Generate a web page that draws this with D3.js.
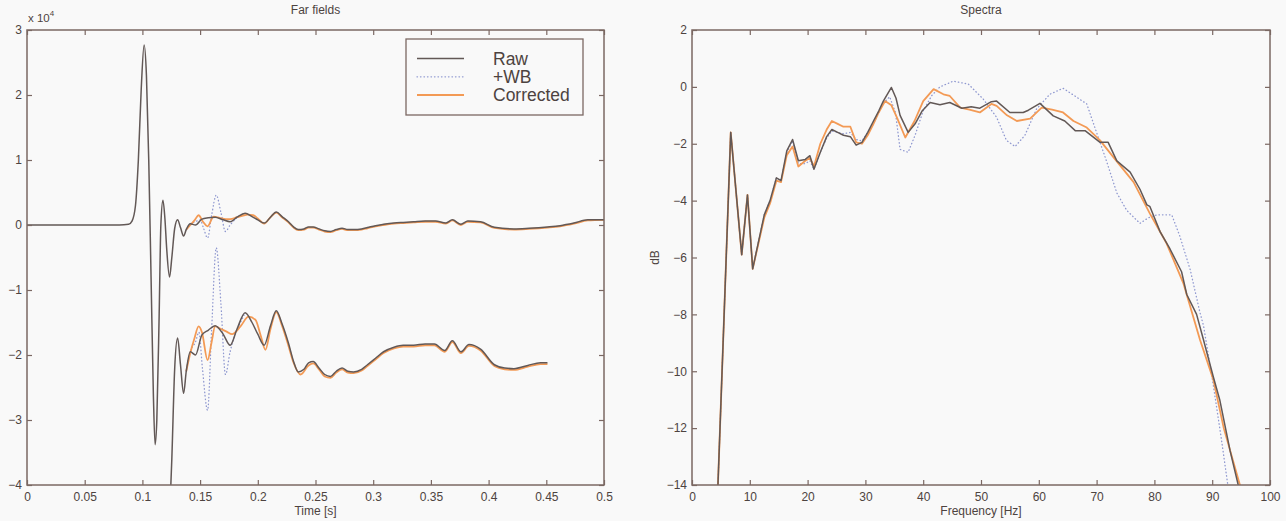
<!DOCTYPE html>
<html><head><meta charset="utf-8">
<script src="https://cdn.jsdelivr.net/npm/d3@7"></script>
<style>
html,body{margin:0;padding:0;background:#f9f9f9;}
svg{display:block;font-family:"Liberation Sans",Arial,Helvetica,sans-serif;}
</style></head><body>
<svg id="chart" width="1286" height="521"></svg>
<script>
// ---------------- DATA ----------------
// Far fields (values in units of 1e4)
const farTimeTicks = [0, 0.05, 0.1, 0.15, 0.2, 0.25, 0.3, 0.35, 0.4, 0.45, 0.5];
const farTimeTickLabels = ["0","0.05","0.1","0.15","0.2","0.25","0.3","0.35","0.4","0.45","0.5"];
const farValueTicks = [-4, -3, -2, -1, 0, 1, 2, 3];

// upper trace
const farTopTime = [0,0.08,0.088,0.091,0.094,0.0965,0.099,0.1015,0.1035,0.1055,0.1075,0.1095,0.111,0.1125,0.1145,0.116,0.1178,0.1195,0.121,0.1235,0.1255,0.128,0.1305,0.133,0.1357,0.138,0.1415,0.146,0.1516,0.157,0.163,0.17,0.176,0.182,0.189,0.195,0.2,0.2055,0.211,0.216,0.221,0.2266,0.231,0.235,0.24,0.244,0.248,0.253,0.258,0.263,0.268,0.273,0.278,0.283,0.29,0.295,0.302,0.309,0.318,0.326,0.335,0.345,0.354,0.363,0.3686,0.376,0.382,0.393,0.405,0.422,0.435,0.451,0.462,0.474,0.486,0.5];
const farTopRaw  = [0,0,0.01,0.06,0.3,1.0,2.1,2.77,2.3,1.0,-0.8,-2.6,-3.38,-3.0,-1.4,0.0,0.38,0.1,-0.35,-0.8,-0.5,-0.05,0.08,-0.04,-0.17,-0.07,0.02,0.0,0.09,0.11,0.12,0.08,0.05,0.12,0.18,0.13,0.08,0.03,0.12,0.2,0.13,0.05,-0.03,-0.07,-0.06,-0.03,-0.03,-0.06,-0.09,-0.1,-0.07,-0.05,-0.07,-0.07,-0.06,-0.04,-0.01,0.01,0.03,0.04,0.05,0.06,0.06,0.03,0.08,0.01,0.06,0.05,-0.035,-0.06,-0.05,-0.03,-0.01,0.03,0.08,0.08];
const farTopCorrTime = [0.138,0.1415,0.1455,0.1487,0.1525,0.1565,0.1617,0.167,0.172,0.176,0.182,0.188,0.191,0.196,0.2,0.2055,0.211,0.216,0.221,0.2266,0.231,0.235,0.24,0.244,0.248,0.253,0.258,0.263,0.268,0.273,0.278,0.283,0.29,0.295,0.302,0.309,0.318,0.326,0.335,0.345,0.354,0.363,0.3686,0.376,0.382,0.393,0.405,0.422,0.435,0.451,0.462,0.474,0.486,0.5];
const farTopCorr = [-0.07,0.0,0.08,0.15,0.05,-0.02,0.13,0.11,0.09,0.09,0.12,0.15,0.16,0.15,0.1,0.02,0.12,0.19,0.12,0.04,-0.04,-0.08,-0.07,-0.04,-0.04,-0.07,-0.1,-0.11,-0.08,-0.06,-0.08,-0.08,-0.07,-0.05,-0.02,0.0,0.02,0.03,0.04,0.05,0.05,0.02,0.07,0.0,0.05,0.04,-0.045,-0.07,-0.06,-0.04,-0.02,0.02,0.07,0.08];
const farTopWBTime = [0.138,0.1415,0.146,0.15,0.153,0.1565,0.16,0.164,0.168,0.172,0.176,0.18,0.185,0.189];
const farTopWB = [-0.07,0.02,0.05,0.08,-0.05,-0.2,0.15,0.46,0.2,-0.1,0.0,0.08,0.15,0.18];

// lower trace
const farLowTime = [0.1225,0.1255,0.128,0.1305,0.133,0.1357,0.138,0.1415,0.146,0.1516,0.157,0.163,0.17,0.176,0.182,0.189,0.195,0.2,0.2055,0.211,0.216,0.221,0.2266,0.231,0.235,0.24,0.244,0.248,0.253,0.258,0.263,0.268,0.273,0.278,0.283,0.29,0.295,0.302,0.309,0.318,0.326,0.335,0.345,0.353,0.362,0.3686,0.376,0.383,0.393,0.405,0.414,0.422,0.434,0.445,0.451];
const farLowRaw = [-5.0,-3.6,-2.2,-1.74,-2.15,-2.59,-2.25,-1.95,-2.0,-1.69,-1.62,-1.55,-1.68,-1.85,-1.6,-1.35,-1.5,-1.68,-1.85,-1.55,-1.32,-1.52,-1.82,-2.1,-2.26,-2.22,-2.12,-2.1,-2.2,-2.3,-2.33,-2.25,-2.2,-2.25,-2.26,-2.22,-2.15,-2.05,-1.95,-1.88,-1.85,-1.85,-1.83,-1.83,-1.93,-1.78,-1.95,-1.84,-1.91,-2.15,-2.2,-2.21,-2.16,-2.12,-2.12];
const farLowCorrTime = [0.138,0.1415,0.145,0.1487,0.1516,0.1565,0.16,0.163,0.168,0.173,0.1777,0.185,0.192,0.198,0.2025,0.2066,0.211,0.216,0.221,0.2266,0.231,0.237,0.244,0.248,0.253,0.258,0.263,0.268,0.273,0.278,0.283,0.29,0.295,0.302,0.309,0.318,0.326,0.335,0.345,0.353,0.362,0.3686,0.376,0.383,0.393,0.405,0.414,0.422,0.434,0.445,0.451];
const farLowCorr = [-2.25,-1.97,-1.75,-1.56,-1.65,-2.08,-1.8,-1.56,-1.6,-1.64,-1.68,-1.56,-1.41,-1.46,-1.7,-1.92,-1.6,-1.34,-1.55,-1.86,-2.12,-2.3,-2.16,-2.13,-2.22,-2.33,-2.35,-2.27,-2.22,-2.27,-2.28,-2.24,-2.17,-2.07,-1.97,-1.9,-1.87,-1.87,-1.85,-1.85,-1.95,-1.8,-1.97,-1.86,-1.93,-2.17,-2.22,-2.23,-2.18,-2.14,-2.14];
const farLowWBTime = [0.138,0.1415,0.146,0.149,0.152,0.1565,0.16,0.164,0.168,0.172,0.176,0.18,0.185,0.189];
const farLowWB = [-2.25,-1.95,-1.8,-1.65,-2.2,-2.85,-1.6,-0.35,-1.2,-2.3,-1.95,-1.7,-1.5,-1.35];

// Spectra (dB)
const specFreqTicks = [0,10,20,30,40,50,60,70,80,90,100];
const specDbTicks = [-14,-12,-10,-8,-6,-4,-2,0,2];
const specRawFreq = [4.4,6.7,8.6,9.6,10.5,12.5,13.5,14.6,15.4,16.4,17.4,18.4,19.6,20.4,21.1,22.2,23.3,24.2,25.2,26.2,27.4,28.4,29.4,30.4,31.4,32.3,33.1,34.5,35.3,36.0,37.4,38.6,39.8,41.2,42.9,44.6,46.7,48.3,49.8,51.8,52.7,55.0,57.3,58.2,60.2,62.5,64.5,66.3,68.0,70.6,72.0,73.5,75.8,77.5,78.7,79.2,81.0,82.7,84.7,85.6,87.3,88.5,90.2,91.3,93.1,94.5,95.0];
const specRawDb = [-14.5,-1.6,-5.9,-3.8,-6.4,-4.5,-4.0,-3.2,-3.3,-2.25,-1.85,-2.6,-2.55,-2.42,-2.9,-2.3,-1.75,-1.5,-1.6,-1.7,-1.75,-2.05,-1.95,-1.6,-1.2,-0.85,-0.5,-0.02,-0.4,-1.0,-1.6,-1.3,-0.85,-0.55,-0.63,-0.55,-0.75,-0.7,-0.75,-0.52,-0.5,-0.9,-0.9,-0.82,-0.58,-1.02,-1.2,-1.54,-1.54,-1.95,-1.95,-2.6,-3.0,-3.6,-4.15,-4.2,-5.1,-5.7,-6.5,-7.3,-8.0,-8.9,-10.2,-11.0,-12.8,-14.0,-14.5];
const specWBFreq = [4.4,6.7,8.6,9.6,10.5,12.5,13.5,14.6,15.4,16.4,17.4,18.4,19.6,20.4,21.1,22.2,23.3,24.2,26.2,27.4,28.4,29.4,31.4,33.0,34.2,35.2,36.0,37.4,38.6,40.0,41.5,42.9,45.2,47.8,50.4,52.7,54.4,55.9,57.6,59.6,61.9,64.2,66.6,68.3,69.7,71.7,73.5,75.2,77.5,79.0,80.4,83.0,84.4,86.2,87.9,88.5,90.2,91.6,92.7,93.0];
const specWBDb = [-14.5,-1.6,-5.9,-3.8,-6.4,-4.5,-4.0,-3.2,-3.3,-2.3,-1.9,-2.7,-2.7,-2.6,-2.9,-2.3,-1.8,-1.55,-1.65,-1.6,-1.85,-1.9,-1.3,-0.6,-0.35,-0.9,-2.2,-2.3,-1.7,-0.84,-0.3,0.0,0.2,0.1,-0.43,-1.07,-1.88,-2.1,-1.7,-0.78,-0.26,-0.05,-0.37,-0.6,-1.43,-2.6,-3.73,-4.34,-4.8,-4.6,-4.5,-4.5,-5.25,-6.43,-7.95,-8.4,-10.5,-12.4,-14.0,-14.5];
const specCorrFreq = [4.4,6.7,8.6,9.6,10.5,12.5,13.5,14.6,15.4,16.4,17.4,18.4,19.6,20.4,21.1,22.2,23.3,24.2,25.2,26.2,27.4,28.4,29.4,30.4,31.4,32.3,33.4,34.5,35.5,36.9,38.5,40.0,41.8,43.5,44.6,46.4,48.0,49.8,51.8,52.7,54.5,56.2,58.5,60.5,62.3,64.2,66.0,68.3,70.6,72.9,76.4,79.2,82.1,85.0,87.9,90.2,92.0,94.8,95.3];
const specCorrDb = [-14.5,-1.6,-5.9,-3.8,-6.4,-4.6,-4.1,-3.3,-3.35,-2.4,-2.1,-2.8,-2.6,-2.5,-2.8,-2.0,-1.5,-1.2,-1.3,-1.4,-1.4,-1.95,-2.0,-1.7,-1.3,-0.9,-0.5,-0.65,-1.1,-1.78,-1.2,-0.5,-0.08,-0.26,-0.32,-0.73,-0.8,-0.9,-0.6,-0.67,-1.0,-1.2,-1.12,-0.73,-0.8,-0.9,-1.2,-1.43,-1.88,-2.47,-3.35,-4.45,-5.5,-6.9,-8.9,-10.3,-12.0,-14.0,-14.5];

// ---------------- STYLE ----------------
const BG = "#f9f9f9", AXIS = "#7b6863", TEXT = "#4d4340";
const C_RAW = "#625856", C_WB = "#8f98d0", C_CORR = "#f39a55";

const svg = d3.select("#chart");
svg.append("rect").attr("width",1286).attr("height",521).attr("fill",BG);

const zip = (xs, ys) => xs.map((x,i)=>[x, ys[i]]);

function panel(cfg){
  const g = svg.append("g");
  const x = d3.scaleLinear().domain(cfg.xDomain).range([cfg.x0, cfg.x1]);
  const y = d3.scaleLinear().domain(cfg.yDomain).range([cfg.y1, cfg.y0]);
  const clipId = "clip-" + cfg.id;
  svg.append("clipPath").attr("id", clipId).append("rect")
     .attr("x", cfg.x0).attr("y", cfg.y0).attr("width", cfg.x1-cfg.x0).attr("height", cfg.y1-cfg.y0);
  g.append("rect").attr("x",cfg.x0).attr("y",cfg.y0).attr("width",cfg.x1-cfg.x0).attr("height",cfg.y1-cfg.y0).attr("fill",BG);
  const plot = g.append("g").attr("clip-path", `url(#${clipId})`);
  const line = d3.line().x(d=>x(d[0])).y(d=>y(d[1])).curve(cfg.curve);
  cfg.series.forEach(s=>{
    plot.append("path").datum(s.data).attr("d", line)
      .attr("fill","none").attr("stroke", s.color).attr("stroke-width", s.width)
      .attr("stroke-dasharray", s.dash || null).attr("stroke-linejoin","round").attr("stroke-linecap", s.dash ? "round" : "butt");
  });
  // axes (ticks inward)
  const ax = [];
  ax.push(g.append("g").attr("transform",`translate(0,${cfg.y1})`)
    .call(d3.axisBottom(x).tickValues(cfg.xTicks).tickFormat((d,i)=>cfg.xLabels ? cfg.xLabels[i] : d3.format("d")(d)).tickSize(-5).tickSizeOuter(0).tickPadding(7)));
  ax.push(g.append("g").attr("transform",`translate(0,${cfg.y0})`)
    .call(d3.axisTop(x).tickValues(cfg.xTicks).tickFormat("").tickSize(-5).tickSizeOuter(0)));
  ax.push(g.append("g").attr("transform",`translate(${cfg.x0},0)`)
    .call(d3.axisLeft(y).tickValues(cfg.yTicks).tickFormat(d3.format("d")).tickSize(-5).tickSizeOuter(0).tickPadding(5)));
  ax.push(g.append("g").attr("transform",`translate(${cfg.x1},0)`)
    .call(d3.axisRight(y).tickValues(cfg.yTicks).tickFormat("").tickSize(-5).tickSizeOuter(0)));
  ax.forEach(a=>{
    a.select(".domain").remove();
    a.selectAll("line").attr("stroke", AXIS).attr("stroke-width",1.2);
    a.selectAll("text").attr("fill", TEXT).attr("font-size", 12).attr("font-family","Liberation Sans, Arial, sans-serif");
  });
  g.append("rect").attr("x",cfg.x0).attr("y",cfg.y0).attr("width",cfg.x1-cfg.x0).attr("height",cfg.y1-cfg.y0)
    .attr("fill","none").attr("stroke",AXIS).attr("stroke-width",1.5);
  // title & labels
  const cx = (cfg.x0+cfg.x1)/2;
  g.append("text").attr("x",cx).attr("y",14).attr("text-anchor","middle").attr("font-size",12).attr("fill",TEXT).text(cfg.title);
  g.append("text").attr("x",cx).attr("y",515).attr("text-anchor","middle").attr("font-size",12).attr("fill",TEXT).text(cfg.xLabel);
  if (cfg.yLabel){
    g.append("text").attr("transform",`translate(${cfg.yLabelX},${(cfg.y0+cfg.y1)/2}) rotate(-90)`)
      .attr("text-anchor","middle").attr("font-size",12).attr("fill",TEXT).text(cfg.yLabel);
  }
  return {g, x, y};
}

// Left: Far fields
const L = panel({
  id:"far", x0:27, x1:604, y0:30, y1:485,
  xDomain:[0,0.5], yDomain:[-4,3],
  xTicks: farTimeTicks, xLabels: farTimeTickLabels, yTicks: farValueTicks,
  curve: d3.curveMonotoneX,
  title:"Far fields", xLabel:"Time [s]",
  series:[
    {data: zip(farTopWBTime, farTopWB), color:C_WB, width:1.3, dash:"0.5,3"},
    {data: zip(farLowWBTime, farLowWB), color:C_WB, width:1.3, dash:"0.5,3"},
    {data: zip(farTopCorrTime, farTopCorr), color:C_CORR, width:1.8},
    {data: zip(farLowCorrTime, farLowCorr), color:C_CORR, width:1.8},
    {data: zip(farTopTime, farTopRaw), color:C_RAW, width:1.5},
    {data: zip(farLowTime, farLowRaw), color:C_RAW, width:1.5}
  ]
});
// exponent label
const ex = L.g.append("text").attr("x",28).attr("y",22).attr("font-size",11.5).attr("fill",TEXT);
ex.append("tspan").text("x 10");
ex.append("tspan").attr("dy",-6).attr("font-size",8).text("4");

// Legend
const leg = L.g.append("g");
leg.append("rect").attr("x",406).attr("y",39).attr("width",177).attr("height",76)
  .attr("fill",BG).attr("stroke",AXIS).attr("stroke-width",1.3);
const legendNames = ["Raw","+WB","Corrected"];
const legendColors = [C_RAW, C_WB, C_CORR];
const legendDash = [null, "0.5,3", null];
const legendWidth = [1.6, 1.3, 2];
legendNames.forEach((n,i)=>{
  const ly = 58.5 + i*18.3;
  leg.append("line").attr("x1",417).attr("x2",464).attr("y1",ly).attr("y2",ly)
    .attr("stroke",legendColors[i]).attr("stroke-width",legendWidth[i])
    .attr("stroke-dasharray",legendDash[i]).attr("stroke-linecap", legendDash[i] ? "round" : "butt");
  leg.append("text").attr("x",493).attr("y",ly+6).attr("font-size",17.5).attr("fill",TEXT).text(n);
});

// Right: Spectra
panel({
  id:"spec", x0:692, x1:1270, y0:30, y1:485,
  xDomain:[0,100], yDomain:[-14,2],
  xTicks: specFreqTicks, yTicks: specDbTicks,
  curve: d3.curveLinear,
  title:"Spectra", xLabel:"Frequency [Hz]", yLabel:"dB", yLabelX:659,
  series:[
    {data: zip(specWBFreq, specWBDb), color:C_WB, width:1.3, dash:"0.5,3"},
    {data: zip(specCorrFreq, specCorrDb), color:C_CORR, width:1.8},
    {data: zip(specRawFreq, specRawDb), color:C_RAW, width:1.5}
  ]
});
</script>
</body></html>
